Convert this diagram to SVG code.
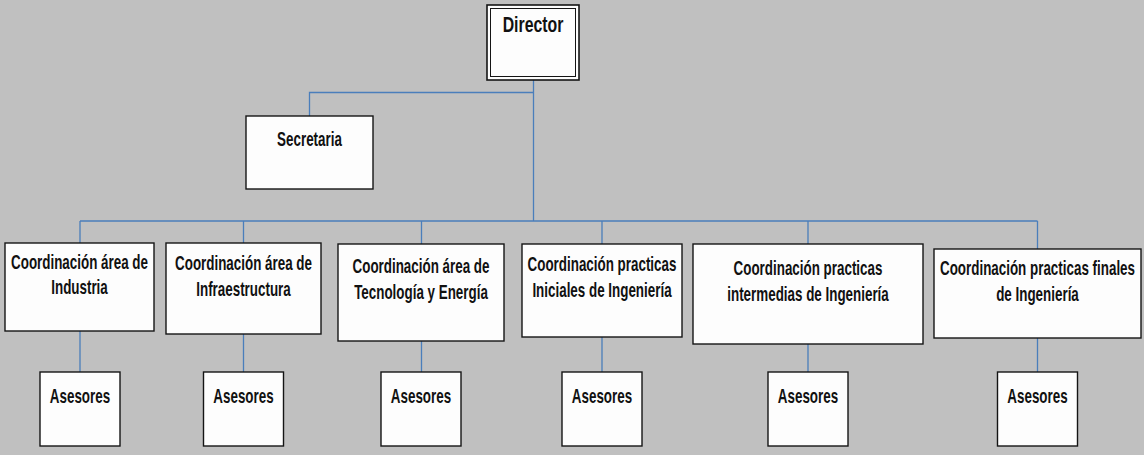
<svg xmlns="http://www.w3.org/2000/svg" width="1144" height="455" viewBox="0 0 1144 455">
<style>
.bg{fill:#c0c0c0}
.box{fill:#fdfdfd;stroke:#141414;stroke-width:1.4}
.lbl{font-family:"Liberation Sans",Arial,sans-serif;font-weight:bold;font-size:20px;fill:#111;text-anchor:middle}
.dir{font-size:22px}
.conn{fill:none;stroke:#4a7ebb;stroke-width:1.3}
</style>
<rect class="bg" x="0" y="0" width="1144" height="455"/>
<g id="connectors">
<path class="conn" d="M533.5,80 V221"/>
<path class="conn" d="M533.5,92.5 H309.5 V116"/>
<path class="conn" d="M80,221 H1037.5"/>
<path class="conn" d="M80,221 V243 M243.5,221 V243 M421.5,221 V244 M602,221 V244 M808,221 V244 M1037.5,221 V249"/>
<path class="conn" d="M80,331 V372 M243.5,334 V372 M421.5,341 V372 M602,337 V372 M808,344 V372 M1037.5,338 V372"/>
</g>
<g id="director">
<rect x="487" y="5" width="92" height="75" fill="#fdfdfd" stroke="#141414" stroke-width="1.6"/>
<rect x="490.5" y="8.5" width="85" height="68" fill="none" stroke="#141414" stroke-width="1"/>
<text class="lbl dir" transform="translate(533,31.5) scale(0.72,1)" x="0" y="0">Director</text>
</g>
<g id="secretaria">
<rect class="box" x="246" y="116" width="127" height="73"/>
<text class="lbl" transform="translate(309.5,145.5) scale(0.67,1)" x="0" y="0">Secretaria</text>
</g>
<g id="coord-industria">
<rect class="box" x="5" y="243" width="149" height="88"/>
<text class="lbl" transform="translate(79.5,268.5) scale(0.67,1)"><tspan x="0" y="0">Coordinación área de</tspan><tspan x="0" y="25.5">Industria</tspan></text>
</g>
<g id="coord-infraestructura">
<rect class="box" x="166" y="243" width="155" height="91"/>
<text class="lbl" transform="translate(243.5,270) scale(0.67,1)"><tspan x="0" y="0">Coordinación área de</tspan><tspan x="0" y="26.5">Infraestructura</tspan></text>
</g>
<g id="coord-tecnologia">
<rect class="box" x="338" y="244" width="166" height="97"/>
<text class="lbl" transform="translate(421,272.5) scale(0.67,1)"><tspan x="0" y="0">Coordinación área de</tspan><tspan x="0" y="26.5">Tecnología y Energía</tspan></text>
</g>
<g id="coord-iniciales">
<rect class="box" x="522" y="244" width="160" height="93"/>
<text class="lbl" transform="translate(602,271) scale(0.67,1)"><tspan x="0" y="0">Coordinación practicas</tspan><tspan x="0" y="26.5">Iniciales de Ingeniería</tspan></text>
</g>
<g id="coord-intermedias">
<rect class="box" x="693" y="244" width="230" height="100"/>
<text class="lbl" transform="translate(808,275) scale(0.67,1)"><tspan x="0" y="0">Coordinación practicas</tspan><tspan x="0" y="26">intermedias de Ingeniería</tspan></text>
</g>
<g id="coord-finales">
<rect class="box" x="934" y="249" width="207" height="89"/>
<text class="lbl" transform="translate(1037.5,275) scale(0.67,1)"><tspan x="0" y="0">Coordinación practicas finales</tspan><tspan x="0" y="26">de Ingeniería</tspan></text>
</g>
<g id="asesores-1"><rect class="box" x="40" y="372" width="80" height="74"/><text class="lbl" transform="translate(80,402.5) scale(0.67,1)">Asesores</text></g>
<g id="asesores-2"><rect class="box" x="203.5" y="372" width="80" height="74"/><text class="lbl" transform="translate(243.5,402.5) scale(0.67,1)">Asesores</text></g>
<g id="asesores-3"><rect class="box" x="381" y="372" width="80" height="74"/><text class="lbl" transform="translate(421,402.5) scale(0.67,1)">Asesores</text></g>
<g id="asesores-4"><rect class="box" x="562" y="372" width="80" height="74"/><text class="lbl" transform="translate(602,402.5) scale(0.67,1)">Asesores</text></g>
<g id="asesores-5"><rect class="box" x="768" y="372" width="80" height="74"/><text class="lbl" transform="translate(808,402.5) scale(0.67,1)">Asesores</text></g>
<g id="asesores-6"><rect class="box" x="997.5" y="372" width="80" height="74"/><text class="lbl" transform="translate(1037.5,402.5) scale(0.67,1)">Asesores</text></g>
</svg>
